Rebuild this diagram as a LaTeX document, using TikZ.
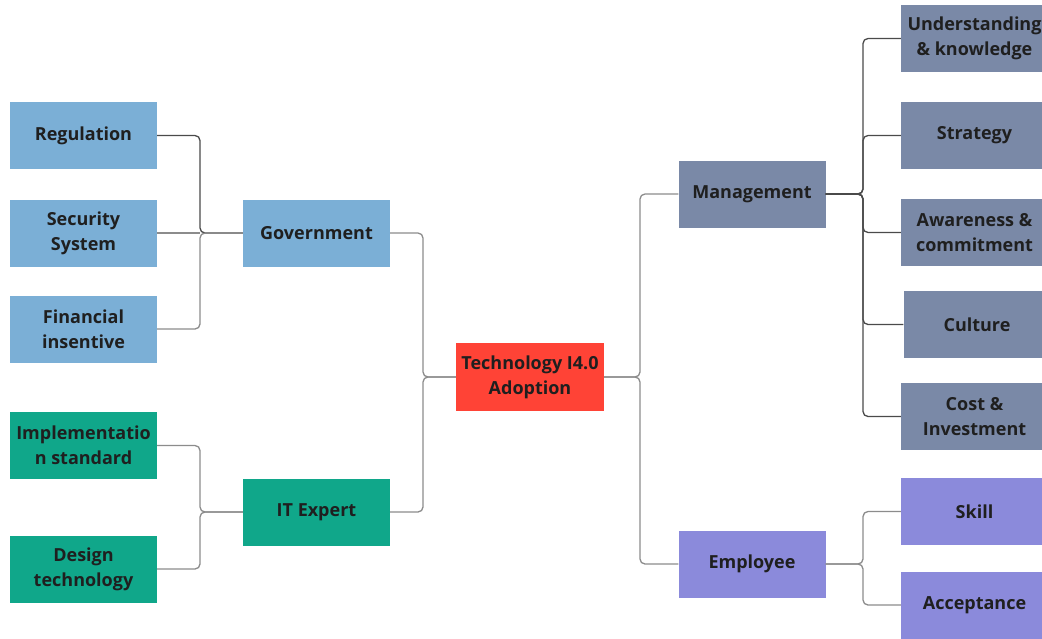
\documentclass[tikz,border=0pt]{standalone}
\usepackage{fontspec}
\setmainfont{Open Sans}
\begin{document}
\begin{tikzpicture}[x=1pt,y=-1pt,
  box/.style={rectangle, minimum width=147pt, minimum height=67pt, inner sep=0pt,
    align=center, text=black!88, font=\bfseries\fontsize{18}{25}\selectfont},
  govbox/.style={box, fill=govblue},
  itbox/.style={box, fill=itgreen},
  mgmtbox/.style={box, fill=mgmtslate},
  empbox/.style={box, fill=emppurple},
  corebox/.style={box, fill=corered, minimum width=148pt, minimum height=68pt},
  link/.style={draw=linkgray, line width=1.3pt, rounded corners=5pt},
  darklink/.style={draw=linkdark, line width=1.3pt, rounded corners=5pt}]
\definecolor{govblue}{HTML}{7BAFD6}
\definecolor{itgreen}{HTML}{10A78A}
\definecolor{mgmtslate}{HTML}{7A89A7}
\definecolor{emppurple}{HTML}{8B8ADB}
\definecolor{corered}{HTML}{FF4336}
\definecolor{linkgray}{HTML}{8C8C8C}
\definecolor{linkdark}{HTML}{4A4A4A}
\clip (0,0) rectangle (1042,638);
\fill[white] (0,0) rectangle (1042,638);

% core
\node[corebox] (core) at (530,377) {Technology I4.0\\Adoption};

% left branch
\node[govbox] (gov) at (316.5,233) {Government};
\node[itbox] (it) at (316.5,512) {IT Expert};
\node[govbox] (reg) at (83.5,135.5) {Regulation};
\node[govbox] (sec) at (83.5,233) {Security\\System};
\node[govbox] (fin) at (83.5,329) {Financial\\insentive};
\node[itbox] (impl) at (83.5,445.5) {Implementatio\\n standard};
\node[itbox] (des) at (83.5,569) {Design\\technology};

% right branch
\node[mgmtbox] (mgmt) at (752,194) {Management};
\node[empbox] (emp) at (752,564) {Employee};
\node[mgmtbox] (und) at (974.5,38.5) {Understanding\\\& knowledge};
\node[mgmtbox] (str) at (974.5,135.5) {Strategy};
\node[mgmtbox] (awa) at (974.5,232.5) {Awareness \&\\commitment};
\node[mgmtbox] (cul) at (977,324.5) {Culture};
\node[mgmtbox] (cost) at (974.5,416.5) {Cost \&\\Investment};
\node[empbox] (skill) at (974.5,511.5) {Skill};
\node[empbox] (acc) at (974.5,605) {Acceptance};

% junction points
\coordinate (jcL) at (423,377);
\coordinate (jcR) at (640,377);
\coordinate (jg) at (200,233);
\coordinate (ji) at (200,512);
\coordinate (jm) at (863,194);
\coordinate (je) at (863,564);

% core connectors
\draw[link] (gov.east) -| (jcL) -- (core.west);
\draw[link] (it.east) -| (jcL) -- (core.west);
\draw[link] (mgmt.west) -| (jcR) -- (core.east);
\draw[link] (emp.west) -| (jcR) -- (core.east);

% government
\draw[darklink] (reg.east) -| (jg) -- (gov.west);
\draw[link] (sec.east) -- (jg);
\draw[link] (fin.east) -| (jg) -- (gov.west);

% IT expert
\draw[link] (impl.east) -| (ji) -- (it.west);
\draw[link] (des.east) -| (ji) -- (it.west);

% management
\draw[darklink] (und.west) -| (jm) -- (mgmt.east);
\draw[darklink] (str.west) -| (jm) -- (mgmt.east);
\draw[darklink] (awa.west) -| (jm) -- (mgmt.east);
\draw[darklink] (cul.west) -| (jm) -- (mgmt.east);
\draw[darklink] (cost.west) -| (jm) -- (mgmt.east);

% employee
\draw[link] (skill.west) -| (je) -- (emp.east);
\draw[link] (acc.west) -| (je) -- (emp.east);
\end{tikzpicture}
\end{document}
